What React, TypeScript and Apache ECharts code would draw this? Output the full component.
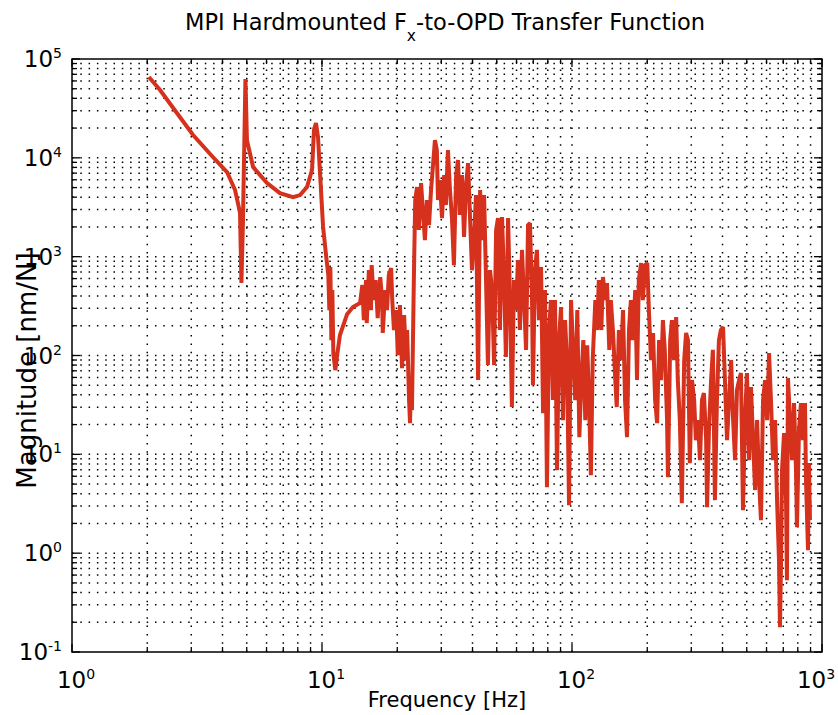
import React, { useEffect, useRef } from "react";
import * as echarts from "echarts";

const FONT = "DejaVu Sans";
const LINE_COLOR = "#d5311d";

const X_MIN = 1;
const X_MAX = 1000;
const Y_MIN = 0.1;
const Y_MAX = 100000;

const xDecades = [1, 10, 100, 1000];
const yDecades = [0.1, 1, 10, 100, 1000, 10000, 100000];
const minorSteps = [2, 3, 4, 5, 6, 7, 8, 9];

// Frequency [Hz]
const freq = [
  2.03, 2.25, 2.54, 3.05, 3.66, 4.17, 4.49, 4.61, 4.70, 4.76,
  4.83, 4.94, 5.01, 5.30, 6.03, 6.79, 7.66, 8.17, 8.71, 9.12,
  9.29, 9.46, 9.64, 9.82, 10.1, 10.4, 10.6, 10.7, 10.8, 10.9,
  11.0, 11.1, 11.3, 11.5, 11.8, 12.6, 13.3, 14.2, 14.5, 14.7,
  15.0, 15.1, 15.4, 15.7, 15.8, 16.1, 16.4, 16.7, 17.1, 17.4,
  17.5, 17.9, 18.2, 18.5, 18.9, 19.1, 19.4, 19.8, 20.1, 20.5,
  20.9, 21.3, 21.7, 21.9, 22.3, 22.5, 22.7, 22.9, 23.3, 23.6,
  24.0, 24.4, 24.9, 25.4, 25.8, 26.3, 26.8, 27.3, 27.8, 28.3,
  28.8, 29.1, 29.6, 30.2, 30.8, 31.3, 31.9, 32.5, 33.1, 33.7,
  34.4, 35.0, 35.6, 36.3, 37.0, 37.7, 38.4, 39.1, 39.8, 40.6,
  41.3, 42.1, 42.9, 43.7, 44.5, 45.3, 46.1, 47.0, 47.9, 48.8,
  49.7, 50.6, 51.5, 52.5, 53.5, 54.4, 55.5, 56.5, 57.5, 58.6,
  59.7, 60.8, 61.9, 63.1, 64.3, 65.5, 66.7, 67.9, 69.2, 69.8,
  71.1, 72.4, 73.8, 75.2, 76.6, 78.0, 79.4, 80.9, 82.4, 83.9,
  85.5, 87.1, 88.7, 90.4, 92.0, 93.8, 95.5, 97.3, 99.1, 101,
  103, 105, 107, 109, 111, 113, 115, 117, 119, 121,
  124, 126, 128, 131, 133, 136, 138, 141, 143, 146,
  149, 151, 154, 157, 160, 163, 166, 169, 172, 175,
  179, 182, 185, 189, 192, 196, 200, 203, 207, 211,
  215, 219, 223, 227, 231, 235, 240, 242, 247, 251,
  256, 261, 265, 270, 275, 281, 286, 291, 296, 302,
  308, 313, 319, 325, 331, 337, 344, 347, 353, 360,
  366, 373, 380, 387, 394, 402, 409, 417, 425, 433,
  441, 449, 457, 466, 474, 483, 492, 501, 511, 520,
  530, 540, 550, 560, 570, 581, 592, 603, 614, 625,
  637, 649, 661, 673, 679, 686, 692, 705, 718, 724,
  731, 745, 759, 773, 787, 794, 809, 824, 839, 855,
  863, 879, 887, 895,
];

// Magnitude [nm/N]
const magnitude = [
  65800, 48500, 31900, 17000, 10200, 7180, 4720, 3490, 2760, 541,
  2340, 62800, 15100, 8070, 5560, 4400, 4010, 4200, 5060, 7530,
  19100, 22500, 16200, 7010, 2000, 991, 652, 288, 785, 143,
  459, 106, 71.1, 101, 161, 262, 309, 339, 516, 228,
  580, 213, 731, 288, 822, 364, 580, 239, 622, 364,
  169, 459, 288, 652, 767, 364, 181, 288, 101, 324,
  74.5, 256, 89.7, 181, 35.4, 20.7, 56.4, 28, 580, 3740,
  5060, 1860, 5560, 2640, 1470, 3740, 2090, 4720, 8450, 15100,
  12000, 3740, 5960, 2460, 6700, 3330, 12000, 4720, 2460, 822,
  6700, 9500, 2640, 6700, 1580, 5310, 8850, 2460, 731, 1660,
  4200, 56.4, 4720, 1470, 4200, 580, 80, 731, 459, 80,
  1860, 2460, 181, 2520, 580, 96.4, 2460, 364, 30.1, 580,
  288, 925, 181, 1170, 364, 114, 2090, 2190, 364, 50.1,
  731, 1170, 228, 785, 26.1, 459, 4.66, 181, 364, 35.4,
  364, 6.92, 143, 309, 22.2, 228, 89.7, 3.06, 364, 114,
  35.4, 288, 14.9, 56.4, 143, 22.2, 127, 35.4, 6.15, 89.7,
  364, 181, 580, 181, 622, 364, 541, 114, 364, 169,
  56.4, 30.1, 181, 89.7, 288, 35.4, 14.9, 181, 364, 143,
  459, 56.4, 580, 861, 364, 822, 861, 288, 89.7, 169,
  35.4, 20.7, 143, 56.4, 228, 114, 22.2, 5.87, 143, 228,
  89.7, 245, 56.4, 22.2, 3.21, 89.7, 169, 143, 8.15, 56.4,
  35.4, 13.9, 22.2, 8.73, 35.4, 41.6, 13.9, 2.92, 17.6, 56.4,
  114, 3.44, 35.4, 143, 181, 194, 56.4, 13.9, 35.4, 89.7,
  22.2, 8.73, 44.7, 56.4, 66.4, 2.72, 22.2, 66.4, 8.73, 47.9,
  13.9, 4.35, 22.2, 5.48, 2.16, 35.4, 56.4, 22.2, 106, 35.4,
  8.73, 22.2, 3.44, 0.849, 0.178, 0.849, 6.92, 16.4, 3.44, 0.533,
  59.0, 22.2, 8.73, 33, 6.92, 1.83, 17.6, 33, 13.9, 33,
  5.48, 1.07, 8.15, 2.16,
];

function gridValues(decades: number[], max: number) {
  const out: number[][] = [];
  decades.forEach((d) => {
    out.push([d, 1]);
    if (d < max) minorSteps.forEach((m) => out.push([d * m, 0]));
  });
  return out;
}

const xGrid = gridValues(xDecades, X_MAX);
const yGrid = gridValues(yDecades, Y_MAX);

const DOT = { stroke: "#000", lineWidth: 1.5, lineDash: [1.5, 6.8] };
const TICK = { stroke: "#000", lineWidth: 1.3 };

function yLabel(v: number) {
  const e = Math.round(Math.log10(v));
  return `{b|10}{s|${e}}`;
}

function xLabel(v: number) {
  const e = Math.round(Math.log10(v));
  if (v >= X_MAX * 0.999) return `{b|10}{sr|${e}}`;
  return `{pl|}{b|10}{s|${e}}`;
}

export default function App() {
  const ref = useRef<HTMLDivElement>(null);

  useEffect(() => {
    if (!ref.current) return;
    const chart = echarts.init(ref.current, null, { renderer: "svg" });

    const base = { fontSize: 23, fontFamily: FONT, color: "#000", lineHeight: 26 };
    const sup = { fontSize: 14, fontFamily: FONT, color: "#000", lineHeight: 14, verticalAlign: "top" };
    const labelRich = {
      b: base,
      s: sup,
      sr: { ...sup, padding: [0, 12, 0, 0] },
      pl: { width: 8, lineHeight: 26 },
    };

    const option: any = {
      animation: false,
      backgroundColor: "#fff",
      title: {
        text: "{t|MPI Hardmounted F}{sub|x}{t|-to-OPD Transfer Function}",
        left: 185,
        top: 10,
        padding: 0,
        textStyle: {
          fontWeight: "normal",
          rich: {
            t: { fontSize: 22.5, fontFamily: FONT, fontWeight: "normal", color: "#000", lineHeight: 25, verticalAlign: "top" },
            sub: { fontSize: 15.5, fontFamily: FONT, fontWeight: "normal", color: "#000", lineHeight: 52 },
          },
        },
      },
      grid: {
        left: 72,
        right: 16,
        top: 59,
        bottom: 63,
        show: true,
        borderColor: "#000",
        borderWidth: 1.5,
        backgroundColor: "transparent",
        containLabel: false,
        outerBoundsMode: "none",
      },
      xAxis: {
        type: "log",
        logBase: 10,
        min: X_MIN,
        max: X_MAX,
        axisLine: { show: false },
        axisTick: { show: false },
        splitLine: { show: false },
        minorTick: { show: false },
        axisLabel: {
          formatter: xLabel,
          rich: labelRich,
          margin: 15,
          showMinLabel: true,
          showMaxLabel: true,
        },
        name: "Frequency [Hz]",
        nameLocation: "middle",
        nameGap: 37,
        nameMoveOverlap: false,
        nameTextStyle: { fontSize: 21, fontFamily: FONT, color: "#000" },
      },
      yAxis: {
        type: "log",
        logBase: 10,
        min: Y_MIN,
        max: Y_MAX,
        axisLine: { show: false },
        axisTick: { show: false },
        splitLine: { show: false },
        minorTick: { show: false },
        axisLabel: {
          formatter: yLabel,
          rich: labelRich,
          margin: 10,
          showMinLabel: true,
          showMaxLabel: true,
        },
        name: "Magnitude [nm/N]",
        nameLocation: "middle",
        nameGap: 32,
        nameMoveOverlap: false,
        nameTextStyle: { fontSize: 26, fontFamily: FONT, color: "#000", padding: [0, 30, 0, 0] },
      },
      series: [
        {
          type: "custom",
          silent: true,
          z: 1,
          encode: { x: 0, y: 1 },
          data: xGrid.map((g) => [g[0], Y_MIN, g[1]]),
          renderItem: (_p: any, api: any) => {
            const v = api.value(0);
            const major = api.value(2) === 1;
            const a = api.coord([v, Y_MIN]);
            const b = api.coord([v, Y_MAX]);
            const len = major ? 8 : 5;
            const children: any[] = [];
            if (v > X_MIN && v < X_MAX) {
              children.push({ type: "line", shape: { x1: a[0], y1: a[1], x2: b[0], y2: b[1] }, style: DOT });
            }
            children.push({ type: "line", shape: { x1: a[0], y1: a[1], x2: a[0], y2: a[1] - len }, style: TICK });
            children.push({ type: "line", shape: { x1: b[0], y1: b[1], x2: b[0], y2: b[1] + len }, style: TICK });
            return { type: "group", children };
          },
        },
        {
          type: "custom",
          silent: true,
          z: 1,
          encode: { x: 0, y: 1 },
          data: yGrid.map((g) => [X_MIN, g[0], g[1]]),
          renderItem: (_p: any, api: any) => {
            const v = api.value(1);
            const major = api.value(2) === 1;
            const a = api.coord([X_MIN, v]);
            const b = api.coord([X_MAX, v]);
            const len = major ? 8 : 5;
            const children: any[] = [];
            if (v > Y_MIN && v < Y_MAX) {
              children.push({ type: "line", shape: { x1: a[0], y1: a[1], x2: b[0], y2: b[1] }, style: DOT });
            }
            children.push({ type: "line", shape: { x1: a[0], y1: a[1], x2: a[0] + len, y2: a[1] }, style: TICK });
            children.push({ type: "line", shape: { x1: b[0], y1: b[1], x2: b[0] - len, y2: b[1] }, style: TICK });
            return { type: "group", children };
          },
        },
        {
          type: "line",
          z: 3,
          silent: true,
          symbol: "none",
          showSymbol: false,
          data: freq.map((f, i) => [f, magnitude[i]]),
          lineStyle: { width: 4, color: LINE_COLOR, join: "miter", miterLimit: 2 },
          itemStyle: { color: LINE_COLOR },
        },
      ],
    };

    chart.setOption(option);
    return () => chart.dispose();
  }, []);

  return (
    <div
      ref={ref}
      style={{ position: "fixed", left: 0, top: 0, width: 838, height: 715, background: "#fff" }}
    />
  );
}
